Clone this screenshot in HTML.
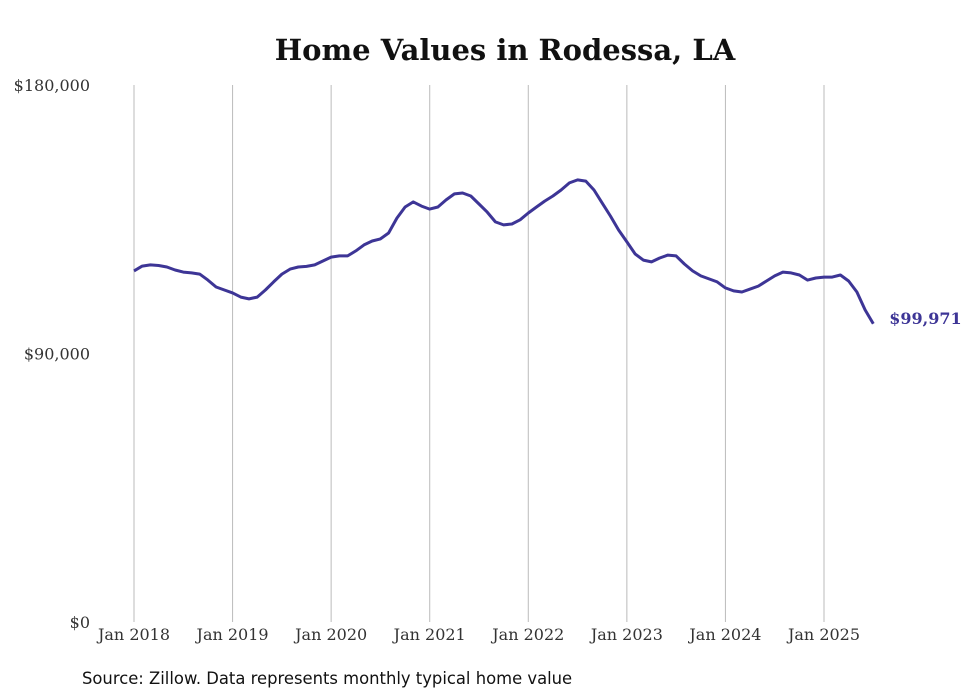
<!DOCTYPE html>
<html><head><meta charset="utf-8"><style>
body{margin:0;background:#fff;}
svg{display:block;font-family:"DejaVu Serif",serif;}
</style></head><body>
<svg id="chart" width="980" height="699">
<text x="505" y="60" text-anchor="middle" font-size="29" font-weight="bold" fill="#111">Home Values in Rodessa, LA</text>
<g id="grid"></g><g id="yt"></g><g id="xt"></g>
<path id="line" fill="none" stroke="#3d3596" stroke-width="3" stroke-linejoin="round"></path>
<text id="endlab" font-size="16" font-weight="bold" fill="#3d3596"></text>
<text x="82" y="684" font-size="16.4" fill="#111" font-family="DejaVu Sans, sans-serif">Source: Zillow. Data represents monthly typical home value</text>
</svg>
<script>
const xLabels=["Jan 2018","Jan 2019","Jan 2020","Jan 2021","Jan 2022","Jan 2023","Jan 2024","Jan 2025"];
const yTicks=[0,90000,180000];
const yTickLabels=["$0","$90,000","$180,000"];
const values=[117.7,119.3,119.7,119.5,119.0,118.0,117.3,117.0,116.6,114.6,112.3,111.3,
110.3,108.9,108.3,108.9,111.3,114.0,116.6,118.3,119.0,119.2,119.7,121.0,
122.3,122.7,122.7,124.4,126.4,127.7,128.4,130.4,135.4,139.1,140.8,139.4,
138.4,139.1,141.5,143.5,143.8,142.8,140.1,137.4,134.1,133.1,133.4,134.8,
137.1,139.1,141.1,142.8,144.8,147.2,148.2,147.8,144.8,140.4,136.1,131.4,
127.4,123.4,121.3,120.7,122.0,123.0,122.7,120.0,117.7,116.0,115.0,114.0,
112.0,111.0,110.6,111.6,112.6,114.3,116.0,117.3,117.0,116.3,114.6,115.3,
115.6,115.6,116.3,114.3,110.6,104.6,99.971].map(v=>v*1000);
const ns="http://www.w3.org/2000/svg";
const x=m=>134+m*(824-134)/84;
const y=v=>622-v*(622-85)/180000;
function mk(t,a,p){const e=document.createElementNS(ns,t);for(const k in a)e.setAttribute(k,a[k]);p.appendChild(e);return e;}
const grid=document.getElementById('grid'),xt=document.getElementById('xt'),yt=document.getElementById('yt');
xLabels.forEach((l,i)=>{
  const gx=x(i*12);
  const ln=mk('line',{x1:gx,x2:gx,y1:85,y2:622,stroke:'#bbb','stroke-width':1},grid);
  
  
  const t=mk('text',{x:gx,y:640,'text-anchor':'middle','font-size':16,fill:'#333'},xt);
  t.textContent=l;
  
  
});
yTicks.forEach((v,i)=>{
  const t=mk('text',{x:90,y:y(v)+6,'text-anchor':'end','font-size':16,fill:'#333'},yt);
  t.textContent=yTickLabels[i];
  
  
});
document.getElementById('line').setAttribute('d',values.map((v,i)=>(i?'L':'M')+x(i).toFixed(1)+','+y(v).toFixed(1)).join(''));
const last=values.length-1,el=document.getElementById('endlab');
el.setAttribute('x',x(last)+16);el.setAttribute('y',y(values[last])+0);
el.textContent='$'+Math.round(values[last]).toLocaleString('en-US');
</script>
</body></html>
